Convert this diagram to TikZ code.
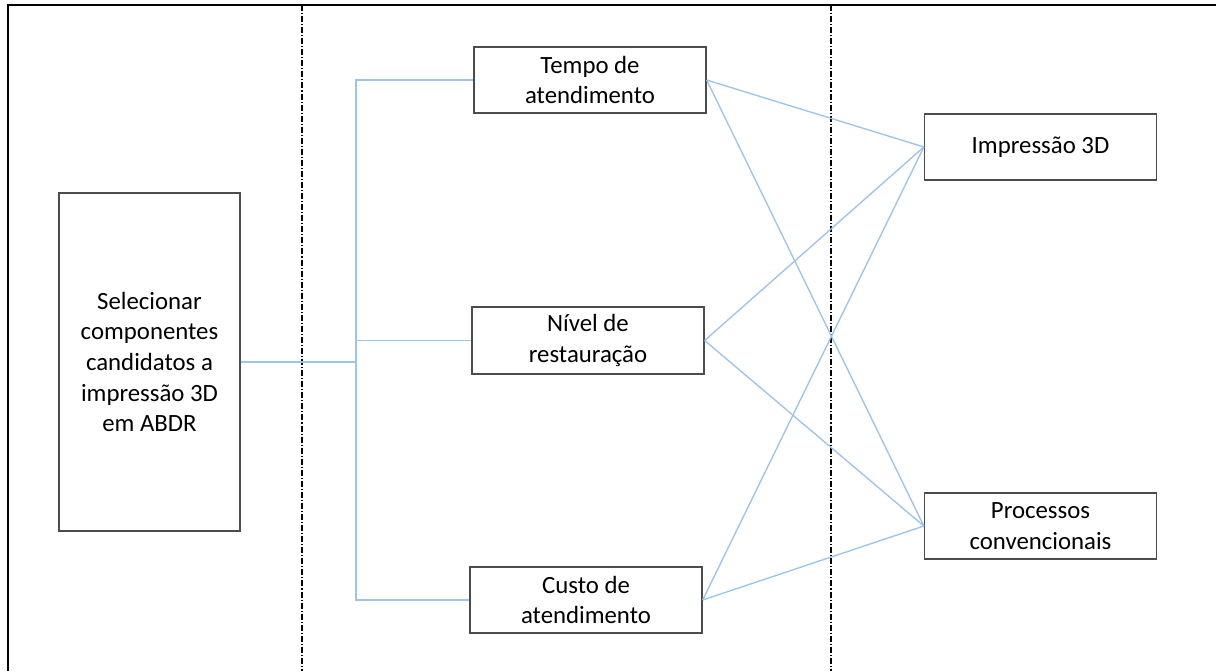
\documentclass[tikz,border=0pt]{standalone}
\usepackage{fontspec}
\setmainfont{Carlito}
\begin{document}
\begin{tikzpicture}[x=0.75pt,y=-0.75pt,
  box/.style={draw=black!70,line width=1pt,fill=white,align=center,
    inner sep=0pt,font=\fontsize{18.6}{23}\selectfont},
  link/.style={draw=blue!30!cyan!35!white,color={rgb,255:red,157;green,195;blue,230},line width=1pt},
  divider/.style={draw=black,line width=0.8pt,dash pattern=on 4.5pt off 1.5pt on 0.8pt off 1.5pt},
  frame/.style={draw=black,line width=1.2pt}]
\useasboundingbox (0,0) rectangle (1216,671);

% frame and column dividers
\draw[frame] (8,671) -- (8,5) -- (1216,5);
\draw[divider] (302,5) -- (302,671);
\draw[divider] (831,5) -- (831,671);

% boxes
\node[box,minimum width=181*0.75pt,minimum height=338*0.75pt] (goal) at (149.5,362)
  {Selecionar\\componentes\\candidatos a\\impressão 3D\\em ABDR};
\node[box,minimum width=232*0.75pt,minimum height=66*0.75pt] (tempo) at (590,80)
  {Tempo de\\atendimento};
\node[box,minimum width=232*0.75pt,minimum height=67*0.75pt] (nivel) at (588,340.5)
  {Nível de\\restauração};
\node[box,minimum width=232*0.75pt,minimum height=66*0.75pt] (custo) at (586,600)
  {Custo de\\atendimento};
\node[box,minimum width=232*0.75pt,minimum height=66*0.75pt] (imp) at (1040.5,147)
  {Impressão 3D};
\node[box,minimum width=232*0.75pt,minimum height=66*0.75pt] (proc) at (1040.5,526)
  {Processos\\convencionais};

% elbow links from the goal to the criteria
\coordinate (j) at (356,362);
\draw[link] (goal.east) -- (j) |- (tempo.west);
\draw[link] (goal.east) -- (j) |- (nivel.west);
\draw[link] (goal.east) -- (j) |- (custo.west);

% criteria to alternatives
\foreach \c in {tempo,nivel,custo}{
  \draw[link] (\c.east) -- (imp.west);
  \draw[link] (\c.east) -- (proc.west);
}
\end{tikzpicture}
\end{document}
